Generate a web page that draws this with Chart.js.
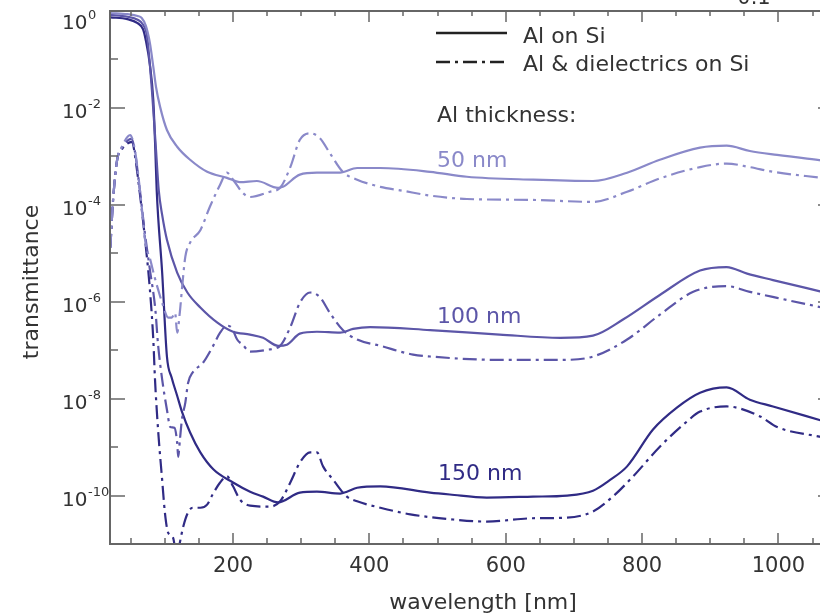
<!DOCTYPE html>
<html><head><meta charset="utf-8">
<script src="https://cdn.jsdelivr.net/npm/chart.js@4.4.0/dist/chart.umd.min.js"></script>
<style>
html,body{margin:0;padding:0;overflow:hidden;background:#fff;width:820px;height:616px;}
#wrap{position:absolute;left:0;top:0;width:850px;height:616px;}
</style></head><body>
<div id="wrap"><canvas id="c" width="850" height="616"></canvas></div>
<script>
// ---- data (wavelength in nm, transmittance) ----
const wlSolid50 = [20,45,60,66,72,78,83,87,93,103,118,137,162,191,210,235,266,273,298,323,357,382,416,489,543,640,728,778,826,885,924,958,998,1064];
const tSolid50  = [0.91,0.86,0.79,0.72,0.5,0.22,0.071,0.027,0.0105,0.0035,0.00158,8.5e-4,4.8e-4,3.6e-4,2.95e-4,3.1e-4,2.24e-4,2.35e-4,4.2e-4,4.6e-4,4.6e-4,5.75e-4,5.75e-4,4.8e-4,3.8e-4,3.3e-4,3.1e-4,4.6e-4,8.5e-4,1.51e-3,1.66e-3,1.29e-3,1.07e-3,8.2e-4];

const wlSolid100 = [20,45,60,68,74,81,87,91,96,103,118,133,152,177,200,225,244,266,279,298,323,357,376,401,489,591,680,728,772,826,885,924,954,992,1064];
const tSolid100  = [0.83,0.76,0.66,0.52,0.29,0.023,1.35e-3,2e-4,6.2e-5,1.9e-5,4e-6,1.55e-6,7.6e-7,3.7e-7,2.4e-7,2.1e-7,1.8e-7,1.23e-7,1.3e-7,2.2e-7,2.4e-7,2.3e-7,2.75e-7,3e-7,2.6e-7,2.1e-7,1.8e-7,2e-7,4.3e-7,1.38e-6,4.4e-6,5.2e-6,3.8e-6,2.8e-6,1.6e-6];

const wlSolid150 = [20,45,60,68,72,78,83,86,88,96,103,110,118,125,137,152,171,200,225,244,266,298,323,357,367,382,416,489,518,572,640,690,728,753,778,816,851,885,924,958,992,1064];
const tSolid150  = [0.74,0.68,0.56,0.42,0.25,0.078,0.0145,1.35e-3,2e-4,4e-6,7.4e-8,2.7e-8,1.15e-8,5.4e-9,2e-9,7.8e-10,3.5e-10,1.86e-10,1.2e-10,9.5e-11,7.2e-11,1.15e-10,1.2e-10,1.1e-10,1.2e-10,1.45e-10,1.55e-10,1.15e-10,1.05e-10,9.1e-11,9.5e-11,1e-10,1.26e-10,2.1e-10,4e-10,2.3e-9,6.5e-9,1.32e-8,1.7e-8,9.5e-9,6.9e-9,3.5e-9];

const wlDiel50 = [20,24,30,37,49,56,63.5,72,78,85,90,96,105,110,115,118,122,125,130,137,152,166,181,191,200,214,225,254,269,284,298,313,327,342,361,382,416,449,489,543,640,728,778,826,885,924,958,992,1064];
const tDiel50  = [1.3e-5,1.26e-4,8.5e-4,1.58e-3,2.75e-3,1.35e-3,2e-4,1.5e-5,7.9e-6,3.2e-6,1.8e-6,9.5e-7,4.7e-7,4.7e-7,5.9e-7,2.3e-7,6.2e-7,1.8e-6,8.5e-6,1.66e-5,3e-5,9.1e-5,2.6e-4,4.6e-4,3.3e-4,1.78e-4,1.45e-4,1.86e-4,2.24e-4,6e-4,2.2e-3,3e-3,2.4e-3,1.17e-3,4.8e-4,3.3e-4,2.35e-4,1.95e-4,1.55e-4,1.32e-4,1.26e-4,1.15e-4,1.86e-4,3.5e-4,6e-4,7.1e-4,6e-4,4.8e-4,3.6e-4];

const wlDiel100 = [20,24,30,37,51,56,63.5,71,78,86,90,96,103,108,114,118,119.5,122,125,130,134,141,156,170,181,191,198,206,214,225,250,269,284,298,313,327,342,361,382,416,464,489,591,680,728,778,826,875,924,958,998,1064];
const tDiel100  = [1.3e-5,1.26e-4,8.5e-4,1.5e-3,2.3e-3,1.26e-3,1.9e-4,2.4e-5,4.6e-6,6.9e-7,1.3e-7,2.5e-8,5.9e-9,2.6e-9,2.5e-9,1.23e-9,6.3e-10,1.4e-9,3.7e-9,8.3e-9,2.1e-8,3.5e-8,5.5e-8,1.17e-7,2.3e-7,3.2e-7,2.9e-7,1.66e-7,1.3e-7,9.3e-8,1.02e-7,1.23e-7,3e-7,9.5e-7,1.55e-6,1.26e-6,5.9e-7,2.6e-7,1.66e-7,1.23e-7,8.1e-8,7.4e-8,6.3e-8,6.3e-8,7.4e-8,1.66e-7,5.4e-7,1.6e-6,2.1e-6,1.6e-6,1.2e-6,7.6e-7];

const wlDiel150 = [20,24,30,37,52,56,63.5,71,78,83,85.5,90,96,100,104.6,112,118,122,127,134,141,152,162,170,181,191,200,210,225,254,269,284,298,313,323,332,347,367,382,416,460,523,572,640,690,728,757,787,826,866,885,924,973,998,1064];
const tDiel150  = [1.3e-5,1.26e-4,8.5e-4,1.4e-3,2e-3,1.07e-3,1.62e-4,1.9e-5,1.8e-6,1.66e-7,2.5e-8,2.3e-9,2.1e-10,4.5e-11,1.74e-11,1.35e-11,5e-12,1.07e-11,2.3e-11,4.5e-11,5.6e-11,5.6e-11,6.5e-11,1.05e-10,1.86e-10,2.5e-10,1.55e-10,8.3e-11,6.2e-11,5.9e-11,7.6e-11,1.86e-10,4.8e-10,7.8e-10,7.8e-10,4e-10,2.1e-10,9.5e-11,7.6e-11,5.6e-11,4.1e-11,3.2e-11,2.9e-11,3.4e-11,3.5e-11,4.7e-11,9.5e-11,2.5e-10,1.02e-9,3.4e-9,5.4e-9,6.9e-9,4.3e-9,2.6e-9,1.6e-9];

// ---- ticks and labels ----
const xMajorTicks = [200,400,600,800,1000];
const xTickLabels = ['200','400','600','800','1000'];
const xMinorTicks = [50,100,150,250,300,350,450,500,550,650,700,750,850,900,950,1050];
const yMajorExponents = [0,-2,-4,-6,-8,-10];
const yMinorExponents = [-1,-3,-5,-7,-9];
const legendLabels = ['Al on Si','Al & dielectrics on Si'];
const thicknessLabels = ['50 nm','100 nm','150 nm'];

const FONT = '"DejaVu Sans", Verdana, sans-serif';
const COL = ['#8a89c9','#5c56a8','#302b85'];
const TXT = '#333';
const AXC = '#666';
const DASH = [14,5,3,5];

function pts(xs, ys){ return xs.map((x,i)=>({x:x, y:ys[i]})); }

const series = [
  [wlSolid50, tSolid50, 0, false],
  [wlDiel50, tDiel50, 0, true],
  [wlSolid100, tSolid100, 1, false],
  [wlDiel100, tDiel100, 1, true],
  [wlSolid150, tSolid150, 2, false],
  [wlDiel150, tDiel150, 2, true]
];
const datasets = series.map(s => ({
  data: pts(s[0], s[1]),
  borderColor: COL[s[2]],
  borderWidth: 2.2,
  borderDash: s[3] ? DASH : [],
  pointRadius: 0,
  fill: false,
  cubicInterpolationMode: 'monotone'
}));

const decor = {
  id: 'decor',
  afterDraw(chart){
    const ctx = chart.ctx, a = chart.chartArea, xs = chart.scales.x, ys = chart.scales.y;
    ctx.save();
    // frame
    ctx.strokeStyle = AXC; ctx.lineWidth = 2; ctx.setLineDash([]);
    ctx.strokeRect(a.left, a.top, a.right - a.left, a.bottom - a.top);
    ctx.lineWidth = 1.5;
    const ln = (x1,y1,x2,y2)=>{ ctx.beginPath(); ctx.moveTo(x1,y1); ctx.lineTo(x2,y2); ctx.stroke(); };
    xMajorTicks.forEach(v=>{ const p = Math.round(xs.getPixelForValue(v)); ln(p,a.bottom,p,a.bottom-11); ln(p,a.top,p,a.top+11); });
    xMinorTicks.forEach(v=>{ const p = Math.round(xs.getPixelForValue(v)); ln(p,a.bottom,p,a.bottom-6); ln(p,a.top,p,a.top+5); });
    yMajorExponents.forEach(e=>{ const p = Math.round(ys.getPixelForValue(Math.pow(10,e))); ln(a.left,p,a.left+15,p); ln(a.right,p,a.right-15,p); });
    yMinorExponents.forEach(e=>{ const p = Math.round(ys.getPixelForValue(Math.pow(10,e))); ln(a.left,p,a.left+8,p); ln(a.right,p,a.right-8,p); });

    ctx.fillStyle = TXT;
    // x tick labels
    ctx.font = '21px ' + FONT; ctx.textAlign = 'center'; ctx.textBaseline = 'alphabetic';
    xMajorTicks.forEach((v,i)=>{ ctx.fillText(xTickLabels[i], xs.getPixelForValue(v), 572); });
    // y tick labels 10^e
    yMajorExponents.forEach(e=>{
      const p = ys.getPixelForValue(Math.pow(10,e));
      const b = Math.max(p + 10, 29);
      ctx.font = '20px ' + FONT; ctx.textAlign = 'left';
      ctx.fillText('10', 62, b);
      const w = ctx.measureText('10').width;
      ctx.font = '13px ' + FONT;
      ctx.fillText(String(e), 62 + w + 0.5, b - 10);
    });
    // axis titles
    ctx.font = '22px ' + FONT; ctx.textAlign = 'center';
    ctx.fillText('wavelength [nm]', 483, 609);
    ctx.save(); ctx.translate(38, 282); ctx.rotate(-Math.PI/2);
    ctx.fillText('transmittance', 0, 0); ctx.restore();
    // clipped label from panel above
    ctx.font = '21px ' + FONT; ctx.textAlign = 'center';
    ctx.fillText('0.1', 754, 4);
    // legend
    ctx.strokeStyle = '#222'; ctx.lineWidth = 2.5;
    ctx.setLineDash([]); ln(436,33,507,33);
    ctx.setLineDash(DASH); ln(436,62,507,62); ctx.setLineDash([]);
    ctx.font = '22px ' + FONT; ctx.textAlign = 'left';
    ctx.fillText(legendLabels[0], 523, 43);
    ctx.fillText(legendLabels[1], 523, 71);
    ctx.fillText('Al thickness:', 437, 122);
    ctx.fillStyle = COL[0]; ctx.fillText(thicknessLabels[0], 437, 167);
    ctx.fillStyle = COL[1]; ctx.fillText(thicknessLabels[1], 437, 323);
    ctx.fillStyle = COL[2]; ctx.fillText(thicknessLabels[2], 438, 480);
    ctx.restore();
  }
};

new Chart(document.getElementById('c'), {
  type: 'line',
  data: { datasets: datasets },
  options: {
    responsive: false,
    animation: false,
    devicePixelRatio: 1,
    layout: { padding: { left: 110, right: 17, top: 11, bottom: 72 } },
    plugins: { legend: { display: false }, tooltip: { enabled: false } },
    scales: {
      x: { type: 'linear', min: 19.5, max: 1080, display: false },
      y: { type: 'logarithmic', min: 1e-11, max: 1, display: false }
    }
  },
  plugins: [decor]
});
</script>
</body></html>
